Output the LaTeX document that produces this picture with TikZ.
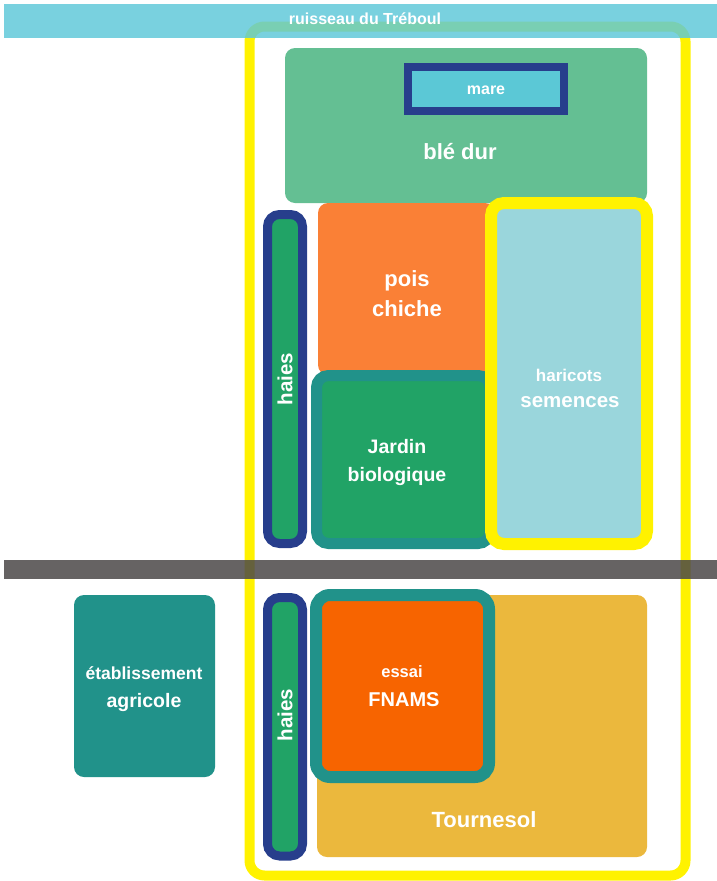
\documentclass[tikz,border=0pt]{standalone}
\usepackage{fontspec}
\setmainfont{Liberation Sans}
\definecolor{bandblue}{RGB}{94,200,216}
\definecolor{yel}{RGB}{255,242,0}
\definecolor{bled}{RGB}{100,191,147}
\definecolor{navy}{RGB}{39,62,140}
\definecolor{mareC}{RGB}{91,200,214}
\definecolor{orangeP}{RGB}{250,128,54}
\definecolor{haric}{RGB}{154,214,220}
\definecolor{tealC}{RGB}{33,146,138}
\definecolor{greenJ}{RGB}{33,163,102}
\definecolor{grayBar}{RGB}{75,72,72}
\definecolor{tourn}{RGB}{235,184,61}
\definecolor{essaiC}{RGB}{247,100,0}
\tikzset{
  lbl/.style={text=white,font=\bfseries,align=center,inner sep=0pt},
  plot/.style={rounded corners=10pt},
}
\begin{document}
\begin{tikzpicture}[x=1pt,y=-1pt]
\useasboundingbox (0,0) rectangle (717,881);
% outer yellow frame
\draw[yel,line width=10pt,rounded corners=15pt] (249.5,26.5) rectangle (685.5,875.5);
% stream band
\fill[bandblue,opacity=0.83] (4,4) rectangle (717,37.5);
\node[lbl,font=\bfseries\fontsize{16}{18}\selectfont] (ruisseau) at (365,19) {ruisseau du Tréboul};
% blé dur
\fill[bled,plot] (285,48) rectangle (647,203);
\node[lbl,font=\bfseries\fontsize{22}{24}\selectfont] (ble) at (460,152) {blé dur};
% mare
\draw[navy,line width=8pt,fill=mareC] (408,67) rectangle (564,111);
\node[lbl,font=\bfseries\fontsize{16}{18}\selectfont] (mare) at (486,90) {mare};
% pois chiche
\fill[orangeP,plot] (318,203) rectangle (495,375);
\node[lbl,font=\bfseries\fontsize{22}{30}\selectfont] (pois) at (407,294) {pois\\chiche};
% jardin biologique
\draw[tealC,line width=11pt,fill=greenJ,rounded corners=12pt] (316.5,375.5) rectangle (490,543.5);
\node[lbl,font=\bfseries\fontsize{19.5}{28}\selectfont] (jardin) at (397,462) {Jardin\\biologique};
% haricots semences
\draw[yel,line width=12pt,fill=haric,rounded corners=13pt] (491,203) rectangle (647,544);
\node[lbl,font=\bfseries\fontsize{17}{18}\selectfont] (haricots) at (569,375) {haricots};
\node[lbl,font=\bfseries\fontsize{20.5}{22}\selectfont] (semences) at (570,402) {semences};
% haies top
\draw[navy,line width=9pt,fill=greenJ,rounded corners=12pt] (267.5,214.5) rectangle (302.5,543.5);
\node[lbl,font=\bfseries\fontsize{20.5}{22}\selectfont,rotate=90] (haies1) at (285,379) {haies};
% grey road
\fill[grayBar,opacity=0.85] (4,560) rectangle (717,578.5);
% établissement agricole
\fill[tealC,plot] (74,595) rectangle (215,777);
\node[lbl,font=\bfseries\fontsize{17.5}{18}\selectfont] (etab) at (144,673) {établissement};
\node[lbl,font=\bfseries\fontsize{19.5}{22}\selectfont] (agri) at (144,702) {agricole};
% tournesol
\fill[tourn,plot] (317,595) rectangle (647,857);
\node[lbl,font=\bfseries\fontsize{22}{24}\selectfont] (tournesol) at (484,820) {Tournesol};
% essai FNAMS
\draw[tealC,line width=12pt,fill=essaiC,rounded corners=14pt] (316,595) rectangle (489,777);
\node[lbl,font=\bfseries\fontsize{16.5}{18}\selectfont] (essai) at (402,672) {essai};
\node[lbl,font=\bfseries\fontsize{20}{22}\selectfont] (fnams) at (404,700) {FNAMS};
% haies bottom
\draw[navy,line width=9pt,fill=greenJ,rounded corners=12pt] (267.5,597.5) rectangle (302.5,856);
\node[lbl,font=\bfseries\fontsize{20.5}{22}\selectfont,rotate=90] (haies2) at (285,715) {haies};
\end{tikzpicture}
\end{document}
